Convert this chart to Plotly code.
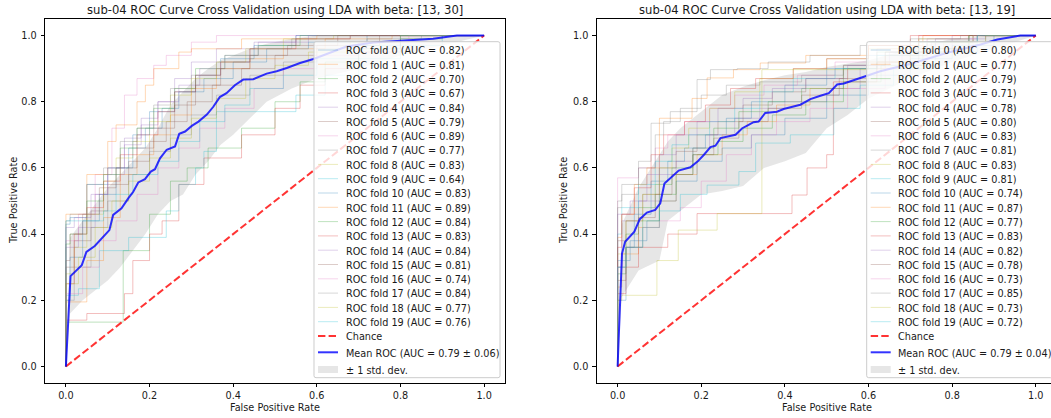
import plotly.graph_objects as go

W, H = 1051, 418
FONT = "DejaVu Sans"
TXT = "#1a1a1a"
FS = 9.7
FS_TITLE = 11.6
TAB10 = ["#1f77b4", "#ff7f0e", "#2ca02c", "#d62728", "#9467bd",
         "#8c564b", "#e377c2", "#7f7f7f", "#bcbd22", "#17becf"]

titles = ["sub-04 ROC Curve Cross Validation using LDA with beta: [13, 30]",
          "sub-04 ROC Curve Cross Validation using LDA with beta: [13, 19]"]
x_label = "False Positive Rate"
y_label = "True Positive Rate"
tick_vals = [0.0, 0.2, 0.4, 0.6, 0.8, 1.0]
tick_text = ["0.0", "0.2", "0.4", "0.6", "0.8", "1.0"]

# ---------------- left panel (beta 13-30) ----------------
left_auc = [0.82, 0.81, 0.70, 0.67, 0.84, 0.79, 0.89, 0.77, 0.83, 0.64,
            0.83, 0.89, 0.84, 0.83, 0.84, 0.81, 0.74, 0.84, 0.77, 0.76]
left_mean_auc, left_std_auc = 0.79, 0.06

left_folds = [
    [(0.01, 0.43), (0.05, 0.45), (0.10, 0.55), (0.15, 0.60), (0.19, 0.66), (0.23, 0.72), (0.27, 0.78), (0.33, 0.83), (0.40, 0.87), (0.48, 0.92), (0.58, 0.96), (0.72, 0.98), (0.86, 1.0), (1.0, 1.0)],
    [(0.05, 0.195), (0.09, 0.32), (0.13, 0.45), (0.17, 0.58), (0.21, 0.64), (0.25, 0.70), (0.30, 0.76), (0.36, 0.84), (0.44, 0.90), (0.52, 0.93), (0.62, 0.96), (0.78, 0.99), (0.90, 1.0), (1.0, 1.0)],
    [(0.137, 0.134), (0.20, 0.35), (0.25, 0.46), (0.29, 0.56), (0.34, 0.60), (0.42, 0.66), (0.50, 0.72), (0.56, 0.80), (0.62, 0.86), (0.70, 0.92), (0.80, 0.96), (0.90, 0.99), (0.96, 1.0), (1.0, 1.0)],
    [(0.05, 0.14), (0.14, 0.16), (0.16, 0.22), (0.20, 0.32), (0.23, 0.40), (0.27, 0.44), (0.33, 0.55), (0.42, 0.63), (0.50, 0.70), (0.56, 0.78), (0.62, 0.85), (0.70, 0.90), (0.80, 0.95), (0.92, 1.0), (1.0, 1.0)],
    [(0.03, 0.36), (0.07, 0.42), (0.10, 0.52), (0.14, 0.58), (0.18, 0.69), (0.22, 0.75), (0.26, 0.80), (0.30, 0.87), (0.36, 0.92), (0.45, 0.96), (0.55, 0.98), (0.70, 1.0), (1.0, 1.0)],
    [(0.02, 0.30), (0.06, 0.38), (0.10, 0.47), (0.15, 0.55), (0.20, 0.62), (0.24, 0.68), (0.29, 0.74), (0.35, 0.80), (0.42, 0.85), (0.50, 0.90), (0.60, 0.94), (0.75, 0.97), (0.88, 1.0), (1.0, 1.0)],
    [(0.03, 0.38), (0.07, 0.46), (0.11, 0.58), (0.14, 0.72), (0.17, 0.82), (0.21, 0.87), (0.24, 0.91), (0.30, 0.94), (0.36, 0.98), (0.44, 1.0), (1.0, 1.0)],
    [(0.02, 0.20), (0.06, 0.30), (0.10, 0.42), (0.15, 0.50), (0.20, 0.58), (0.25, 0.65), (0.30, 0.70), (0.36, 0.76), (0.44, 0.82), (0.52, 0.88), (0.60, 0.92), (0.72, 0.96), (0.85, 0.99), (0.95, 1.0), (1.0, 1.0)],
    [(0.02, 0.28), (0.05, 0.36), (0.09, 0.46), (0.12, 0.56), (0.16, 0.63), (0.20, 0.68), (0.25, 0.74), (0.30, 0.82), (0.36, 0.87), (0.43, 0.92), (0.52, 0.96), (0.64, 0.99), (0.80, 1.0), (1.0, 1.0)],
    [(0.03, 0.215), (0.08, 0.235), (0.15, 0.35), (0.24, 0.39), (0.27, 0.47), (0.31, 0.55), (0.33, 0.60), (0.36, 0.65), (0.42, 0.77), (0.55, 0.77), (0.62, 0.82), (0.70, 0.88), (0.80, 0.93), (0.90, 0.97), (1.0, 1.0)],
    [(0.01, 0.20), (0.04, 0.33), (0.08, 0.44), (0.12, 0.52), (0.16, 0.60), (0.20, 0.70), (0.26, 0.77), (0.31, 0.83), (0.37, 0.88), (0.45, 0.93), (0.55, 0.97), (0.70, 1.0), (1.0, 1.0)],
    [(0.05, 0.46), (0.10, 0.58), (0.12, 0.68), (0.17, 0.73), (0.19, 0.80), (0.21, 0.85), (0.27, 0.90), (0.30, 0.95), (0.42, 0.96), (0.60, 0.99), (0.75, 1.0), (1.0, 1.0)],
    [(0.01, 0.37), (0.05, 0.40), (0.09, 0.50), (0.13, 0.58), (0.17, 0.66), (0.21, 0.72), (0.26, 0.78), (0.31, 0.84), (0.38, 0.90), (0.46, 0.94), (0.56, 0.97), (0.70, 1.0), (1.0, 1.0)],
    [(0.02, 0.25), (0.05, 0.40), (0.09, 0.48), (0.13, 0.56), (0.17, 0.64), (0.22, 0.70), (0.26, 0.77), (0.31, 0.83), (0.37, 0.88), (0.44, 0.92), (0.55, 0.96), (0.68, 0.99), (0.82, 1.0), (1.0, 1.0)],
    [(0.02, 0.42), (0.06, 0.45), (0.10, 0.52), (0.14, 0.60), (0.18, 0.67), (0.22, 0.73), (0.27, 0.80), (0.32, 0.85), (0.38, 0.90), (0.46, 0.94), (0.58, 0.98), (0.72, 1.0), (1.0, 1.0)],
    [(0.01, 0.32), (0.04, 0.40), (0.08, 0.46), (0.12, 0.54), (0.17, 0.60), (0.21, 0.66), (0.26, 0.72), (0.31, 0.79), (0.37, 0.85), (0.44, 0.90), (0.53, 0.94), (0.65, 0.97), (0.80, 1.0), (1.0, 1.0)],
    [(0.04, 0.22), (0.08, 0.30), (0.12, 0.38), (0.17, 0.44), (0.22, 0.52), (0.27, 0.60), (0.32, 0.66), (0.38, 0.72), (0.45, 0.78), (0.52, 0.84), (0.60, 0.90), (0.70, 0.94), (0.82, 0.98), (0.92, 1.0), (1.0, 1.0)],
    [(0.01, 0.44), (0.05, 0.46), (0.09, 0.55), (0.13, 0.60), (0.17, 0.68), (0.21, 0.72), (0.25, 0.79), (0.30, 0.84), (0.36, 0.88), (0.44, 0.92), (0.54, 0.96), (0.68, 0.99), (0.80, 1.0), (1.0, 1.0)],
    [(0.03, 0.25), (0.07, 0.33), (0.11, 0.42), (0.15, 0.50), (0.20, 0.56), (0.25, 0.63), (0.30, 0.69), (0.36, 0.75), (0.43, 0.81), (0.50, 0.87), (0.58, 0.91), (0.68, 0.95), (0.80, 0.98), (0.92, 1.0), (1.0, 1.0)],
    [(0.09, 0.44), (0.12, 0.47), (0.16, 0.52), (0.22, 0.58), (0.27, 0.62), (0.32, 0.68), (0.38, 0.74), (0.44, 0.79), (0.52, 0.84), (0.60, 0.88), (0.70, 0.93), (0.80, 0.97), (0.92, 1.0), (1.0, 1.0)],
]

left_mean_fpr = [0.0, 0.011, 0.038, 0.049, 0.069, 0.089, 0.104, 0.113, 0.133, 0.149, 0.161, 0.173, 0.189, 0.203, 0.213,
                 0.225, 0.241, 0.261, 0.271, 0.285, 0.301, 0.317, 0.337, 0.352, 0.368, 0.384, 0.404, 0.424, 0.448,
                 0.480, 0.504, 0.528, 0.560, 0.592, 0.639, 0.671, 0.735, 0.800, 0.878, 0.935, 1.0]
left_mean_tpr = [0.0, 0.273, 0.306, 0.346, 0.364, 0.392, 0.412, 0.458, 0.478, 0.508, 0.528, 0.556, 0.566, 0.589, 0.596,
                 0.629, 0.655, 0.665, 0.703, 0.710, 0.727, 0.740, 0.761, 0.784, 0.814, 0.826, 0.850, 0.867, 0.868,
                 0.885, 0.892, 0.902, 0.917, 0.929, 0.952, 0.967, 0.979, 0.984, 0.990, 1.0, 1.0]

left_band_fpr = [0.0, 0.01, 0.04, 0.07, 0.10, 0.13, 0.16, 0.19, 0.22, 0.25, 0.28, 0.31, 0.34, 0.37, 0.40,
                 0.44, 0.48, 0.54, 0.60, 0.70, 0.80, 0.90, 1.0]
left_band_upper = [0.0, 0.39, 0.44, 0.49, 0.54, 0.58, 0.62, 0.66, 0.72, 0.79, 0.83, 0.87, 0.90, 0.925, 0.94,
                   0.96, 0.975, 0.99, 1.0, 1.0, 1.0, 1.0, 1.0]
left_band_lower = [0.0, 0.16, 0.20, 0.23, 0.26, 0.30, 0.35, 0.40, 0.46, 0.50, 0.52, 0.58, 0.62, 0.67, 0.70,
                   0.75, 0.80, 0.84, 0.87, 0.90, 0.94, 0.97, 1.0]

# ---------------- right panel (beta 13-19) ----------------
right_auc = [0.80, 0.77, 0.79, 0.71, 0.78, 0.80, 0.83, 0.81, 0.83, 0.81,
             0.74, 0.87, 0.77, 0.83, 0.82, 0.78, 0.73, 0.85, 0.73, 0.72]
right_mean_auc, right_std_auc = 0.79, 0.04

right_folds = [
    [(0.02, 0.20), (0.04, 0.36), (0.08, 0.46), (0.12, 0.56), (0.16, 0.62), (0.21, 0.66), (0.26, 0.70), (0.32, 0.75), (0.40, 0.80), (0.50, 0.85), (0.60, 0.90), (0.72, 0.94), (0.84, 0.98), (0.94, 1.0), (1.0, 1.0)],
    [(0.01, 0.24), (0.05, 0.34), (0.10, 0.42), (0.14, 0.50), (0.19, 0.58), (0.25, 0.64), (0.31, 0.70), (0.38, 0.74), (0.46, 0.79), (0.55, 0.84), (0.64, 0.90), (0.74, 0.94), (0.85, 0.98), (0.95, 1.0), (1.0, 1.0)],
    [(0.02, 0.30), (0.05, 0.40), (0.09, 0.48), (0.13, 0.55), (0.18, 0.60), (0.23, 0.66), (0.29, 0.72), (0.36, 0.77), (0.44, 0.80), (0.54, 0.84), (0.62, 0.90), (0.72, 0.95), (0.85, 0.98), (0.95, 1.0), (1.0, 1.0)],
    [(0.02, 0.22), (0.05, 0.30), (0.12, 0.36), (0.19, 0.40), (0.417, 0.462), (0.453, 0.518), (0.50, 0.60), (0.516, 0.64), (0.62, 0.86), (0.70, 0.92), (0.76, 1.0), (1.0, 1.0)],
    [(0.01, 0.30), (0.05, 0.44), (0.10, 0.50), (0.14, 0.58), (0.18, 0.62), (0.22, 0.66), (0.28, 0.70), (0.34, 0.75), (0.40, 0.78), (0.50, 0.80), (0.58, 0.84), (0.68, 0.90), (0.80, 0.95), (0.92, 1.0), (1.0, 1.0)],
    [(0.02, 0.38), (0.06, 0.44), (0.10, 0.52), (0.14, 0.60), (0.19, 0.65), (0.24, 0.70), (0.30, 0.74), (0.37, 0.79), (0.45, 0.83), (0.54, 0.87), (0.64, 0.91), (0.75, 0.95), (0.86, 0.98), (0.95, 1.0), (1.0, 1.0)],
    [(0.05, 0.57), (0.09, 0.60), (0.12, 0.66), (0.16, 0.70), (0.22, 0.74), (0.28, 0.78), (0.35, 0.82), (0.43, 0.85), (0.52, 0.88), (0.62, 0.92), (0.74, 0.96), (0.86, 0.99), (0.95, 1.0), (1.0, 1.0)],
    [(0.01, 0.48), (0.05, 0.52), (0.09, 0.60), (0.11, 0.70), (0.15, 0.74), (0.20, 0.78), (0.26, 0.82), (0.34, 0.85), (0.44, 0.86), (0.54, 0.88), (0.64, 0.91), (0.76, 0.95), (0.88, 0.98), (0.96, 1.0), (1.0, 1.0)],
    [(0.02, 0.34), (0.06, 0.44), (0.10, 0.52), (0.13, 0.60), (0.17, 0.66), (0.22, 0.72), (0.28, 0.78), (0.34, 0.83), (0.42, 0.87), (0.50, 0.90), (0.60, 0.93), (0.72, 0.96), (0.84, 0.99), (0.92, 1.0), (1.0, 1.0)],
    [(0.01, 0.40), (0.05, 0.48), (0.09, 0.55), (0.13, 0.62), (0.17, 0.67), (0.22, 0.70), (0.28, 0.74), (0.34, 0.78), (0.42, 0.83), (0.52, 0.87), (0.62, 0.90), (0.74, 0.94), (0.86, 0.98), (0.95, 1.0), (1.0, 1.0)],
    [(0.03, 0.32), (0.07, 0.38), (0.10, 0.44), (0.14, 0.50), (0.19, 0.56), (0.25, 0.62), (0.32, 0.66), (0.40, 0.70), (0.50, 0.75), (0.60, 0.82), (0.70, 0.88), (0.80, 0.93), (0.90, 0.97), (0.97, 1.0), (1.0, 1.0)],
    [(0.01, 0.39), (0.04, 0.46), (0.07, 0.55), (0.10, 0.60), (0.178, 0.75), (0.214, 0.81), (0.277, 0.872), (0.341, 0.897), (0.45, 0.917), (0.60, 0.94), (0.73, 0.97), (0.85, 1.0), (1.0, 1.0)],
    [(0.02, 0.28), (0.06, 0.36), (0.10, 0.44), (0.14, 0.52), (0.18, 0.58), (0.24, 0.64), (0.30, 0.68), (0.37, 0.72), (0.45, 0.76), (0.54, 0.80), (0.63, 0.86), (0.73, 0.91), (0.84, 0.96), (0.94, 1.0), (1.0, 1.0)],
    [(0.01, 0.36), (0.04, 0.46), (0.08, 0.54), (0.11, 0.64), (0.16, 0.70), (0.21, 0.74), (0.27, 0.79), (0.33, 0.84), (0.42, 0.87), (0.50, 0.90), (0.60, 0.93), (0.72, 0.97), (0.84, 1.0), (1.0, 1.0)],
    [(0.03, 0.46), (0.07, 0.50), (0.10, 0.58), (0.14, 0.64), (0.19, 0.70), (0.24, 0.74), (0.30, 0.78), (0.37, 0.81), (0.45, 0.84), (0.55, 0.87), (0.65, 0.91), (0.76, 0.95), (0.88, 0.99), (0.96, 1.0), (1.0, 1.0)],
    [(0.02, 0.26), (0.05, 0.36), (0.09, 0.45), (0.13, 0.52), (0.18, 0.58), (0.23, 0.64), (0.29, 0.69), (0.36, 0.74), (0.44, 0.78), (0.53, 0.82), (0.62, 0.87), (0.72, 0.92), (0.84, 0.96), (0.94, 1.0), (1.0, 1.0)],
    [(0.02, 0.30), (0.06, 0.36), (0.10, 0.42), (0.15, 0.44), (0.20, 0.48), (0.26, 0.56), (0.32, 0.64), (0.38, 0.70), (0.46, 0.74), (0.55, 0.78), (0.64, 0.84), (0.74, 0.90), (0.85, 0.95), (0.95, 1.0), (1.0, 1.0)],
    [(0.01, 0.50), (0.05, 0.55), (0.08, 0.62), (0.126, 0.735), (0.19, 0.77), (0.222, 0.867), (0.286, 0.897), (0.36, 0.90), (0.46, 0.92), (0.58, 0.94), (0.70, 0.97), (0.82, 0.99), (0.92, 1.0), (1.0, 1.0)],
    [(0.01, 0.20), (0.094, 0.215), (0.145, 0.32), (0.238, 0.412), (0.345, 0.462), (0.60, 0.897), (0.70, 0.92), (0.78, 0.95), (0.88, 0.98), (0.95, 1.0), (1.0, 1.0)],
    [(0.02, 0.30), (0.06, 0.36), (0.10, 0.42), (0.15, 0.47), (0.214, 0.52), (0.29, 0.548), (0.33, 0.589), (0.413, 0.675), (0.517, 0.70), (0.58, 0.78), (0.66, 0.85), (0.76, 0.90), (0.86, 0.95), (0.95, 1.0), (1.0, 1.0)],
]

right_mean_fpr = [0.0, 0.0105, 0.018, 0.040, 0.053, 0.070, 0.090, 0.102, 0.112, 0.130, 0.146, 0.174, 0.191, 0.206,
                  0.222, 0.234, 0.246, 0.282, 0.298, 0.310, 0.325, 0.337, 0.353, 0.381, 0.397, 0.437, 0.461,
                  0.485, 0.505, 0.525, 0.541, 0.557, 0.589, 0.628, 0.708, 0.788, 0.868, 0.908, 0.963, 1.0]
right_mean_tpr = [0.0, 0.341, 0.377, 0.407, 0.445, 0.465, 0.473, 0.493, 0.553, 0.574, 0.592, 0.602, 0.619, 0.639,
                  0.663, 0.667, 0.690, 0.700, 0.720, 0.728, 0.738, 0.740, 0.766, 0.770, 0.778, 0.791, 0.808,
                  0.818, 0.826, 0.852, 0.855, 0.862, 0.875, 0.892, 0.917, 0.948, 0.973, 0.988, 1.0, 1.0]

right_band_fpr = [0.0, 0.01, 0.05, 0.10, 0.12, 0.15, 0.20, 0.25, 0.30, 0.35, 0.40, 0.45, 0.50, 0.55, 0.60,
                  0.70, 0.80, 0.90, 1.0]
right_band_upper = [0.0, 0.43, 0.54, 0.64, 0.68, 0.72, 0.77, 0.82, 0.845, 0.865, 0.88, 0.89, 0.905, 0.915, 0.925,
                    0.96, 0.99, 1.0, 1.0]
right_band_lower = [0.0, 0.21, 0.29, 0.32, 0.44, 0.47, 0.52, 0.53, 0.545, 0.60, 0.62, 0.645, 0.72, 0.76, 0.81,
                    0.87, 0.92, 0.96, 1.0]

chance_x = [0.0, 1.0]
chance_y = [0.0, 1.0]


def rgba(hexc, a):
    hexc = hexc.lstrip("#")
    r, g, b = int(hexc[0:2], 16), int(hexc[2:4], 16), int(hexc[4:6], 16)
    return f"rgba({r},{g},{b},{a})"


fig = go.Figure()


def add_panel(folds, mean_fpr, mean_tpr, band_fpr, band_lo, band_hi, xa, ya):
    fig.add_trace(go.Scatter(x=band_fpr, y=band_lo, mode="lines", line=dict(width=0),
                             xaxis=xa, yaxis=ya, hoverinfo="skip", showlegend=False))
    fig.add_trace(go.Scatter(x=band_fpr, y=band_hi, mode="lines", line=dict(width=0),
                             fill="tonexty", fillcolor="rgba(128,128,128,0.2)",
                             xaxis=xa, yaxis=ya, hoverinfo="skip", showlegend=False))
    for i, pts in enumerate(folds):
        xs = [0.0] + [p[0] for p in pts]
        ys = [0.0] + [p[1] for p in pts]
        fig.add_trace(go.Scatter(x=xs, y=ys, mode="lines", line=dict(color=rgba(TAB10[i % 10], 0.3), width=1, shape="vh"),
                                 xaxis=xa, yaxis=ya, showlegend=False))
    fig.add_trace(go.Scatter(x=chance_x, y=chance_y, mode="lines",
                             line=dict(color="rgba(255,0,0,0.8)", width=2, dash="7.4px,3.2px"),
                             xaxis=xa, yaxis=ya, showlegend=False))
    fig.add_trace(go.Scatter(x=mean_fpr, y=mean_tpr, mode="lines",
                             line=dict(color="rgba(0,0,255,0.8)", width=2),
                             xaxis=xa, yaxis=ya, showlegend=False))


add_panel(left_folds, left_mean_fpr, left_mean_tpr, left_band_fpr, left_band_lower, left_band_upper, "x", "y")
add_panel(right_folds, right_mean_fpr, right_mean_tpr, right_band_fpr, right_band_lower, right_band_upper, "x2", "y2")

PX_PER_UNIT = 460 / 1.1
L_X0, L_X1 = 45, 505
R_X0 = 596.7
Y_TOP, Y_BOT = 19, 383

axis_common = dict(showline=True, linecolor="black", linewidth=0.8, ticks="outside", ticklen=3.5,
                   tickwidth=0.8, tickcolor="black", showgrid=False, zeroline=False,
                   tickvals=tick_vals, ticktext=tick_text,
                   tickfont=dict(family=FONT, size=FS, color=TXT))

fig.update_layout(
    width=W, height=H, margin=dict(l=0, r=0, t=0, b=0), autosize=False,
    paper_bgcolor="white", plot_bgcolor="white", showlegend=False,
    xaxis=dict(domain=[L_X0 / W, L_X1 / W], range=[-0.05, 1.05], anchor="y", mirror=True,
               ticklabelstandoff=0, **axis_common),
    yaxis=dict(domain=[1 - Y_BOT / H, 1 - Y_TOP / H], range=[-0.05, 1.05], anchor="x", mirror=True,
               ticklabelstandoff=2, **axis_common),
    xaxis2=dict(domain=[R_X0 / W, 1.0], range=[-0.05, -0.05 + (W - R_X0) / PX_PER_UNIT], anchor="y2",
                mirror=True, ticklabelstandoff=0, **axis_common),
    yaxis2=dict(domain=[1 - Y_BOT / H, 1 - Y_TOP / H], range=[-0.05, 1.05], anchor="x2", mirror=False,
                ticklabelstandoff=2, **axis_common),
)

annotations = []
shapes = []


def px(x):
    return x / W


def py(y):
    return 1 - y / H


# titles and axis labels
for title, cx in [(titles[0], (L_X0 + L_X1) / 2), (titles[1], (R_X0 + R_X0 + 1.1 * PX_PER_UNIT) / 2)]:
    annotations.append(dict(text=title, x=px(cx), y=py(10), xref="paper", yref="paper", xanchor="center",
                            yanchor="middle", showarrow=False, font=dict(family=FONT, size=FS_TITLE, color=TXT)))
    annotations.append(dict(text=x_label, x=px(cx), y=py(407), xref="paper", yref="paper", xanchor="center",
                            yanchor="middle", showarrow=False, font=dict(family=FONT, size=FS, color=TXT)))
for lx in [13, 563]:
    annotations.append(dict(text=y_label, x=px(lx), y=py((Y_TOP + Y_BOT) / 2), xref="paper", yref="paper",
                            xanchor="center", yanchor="middle", textangle=-90, showarrow=False,
                            font=dict(family=FONT, size=FS, color=TXT)))


def rounded_rect(x0, y0, x1, y1, r):
    pts = [("M", x0 + r, y0), ("L", x1 - r, y0), ("Q", x1, y0, x1, y0 + r), ("L", x1, y1 - r),
           ("Q", x1, y1, x1 - r, y1), ("L", x0 + r, y1), ("Q", x0, y1, x0, y1 - r), ("L", x0, y0 + r),
           ("Q", x0, y0, x0 + r, y0)]
    s = ""
    for p in pts:
        if p[0] == "Q":
            s += f"Q{px(p[1]):.5f},{py(p[2]):.5f} {px(p[3]):.5f},{py(p[4]):.5f} "
        else:
            s += f"{p[0]}{px(p[1]):.5f},{py(p[2]):.5f} "
    return s + "Z"


def add_legend(x0, aucs, mean_auc, std_auc):
    shapes.append(dict(type="path", path=rounded_rect(x0, 41.7, x0 + 186, 377.7, 2), xref="paper", yref="paper",
                       fillcolor="rgba(255,255,255,0.8)", line=dict(color="#cccccc", width=1), layer="above"))
    rows = []
    for i, a in enumerate(aucs):
        rows.append((50 + 14.3 * i, f"ROC fold {i} (AUC = {a:.2f})", dict(color=rgba(TAB10[i % 10], 0.3), width=1)))
    rows.append((336, "Chance", dict(color="rgba(255,0,0,0.8)", width=2, dash="7.4px,3.2px")))
    rows.append((352.3, f"Mean ROC (AUC = {mean_auc:.2f} \u00b1 {std_auc:.2f})", dict(color="rgba(0,0,255,0.8)", width=2)))
    for yrow, label, line in rows:
        shapes.append(dict(type="line", x0=px(x0 + 4), x1=px(x0 + 24), y0=py(yrow), y1=py(yrow), xref="paper",
                           yref="paper", line=line, layer="above"))
        annotations.append(dict(text=label, x=px(x0 + 29.5), y=py(yrow + 0.8), xref="paper", yref="paper",
                                xanchor="left", yanchor="middle", showarrow=False,
                                font=dict(family=FONT, size=FS, color=TXT)))
    shapes.append(dict(type="rect", x0=px(x0 + 4), x1=px(x0 + 24), y0=py(373), y1=py(366), xref="paper",
                       yref="paper", fillcolor="rgba(128,128,128,0.2)", line=dict(width=0), layer="above"))
    annotations.append(dict(text="\u00b1 1 std. dev.", x=px(x0 + 29.5), y=py(370.3), xref="paper", yref="paper",
                            xanchor="left", yanchor="middle", showarrow=False,
                            font=dict(family=FONT, size=FS, color=TXT)))


add_legend(314, left_auc, left_mean_auc, left_std_auc)
add_legend(866.7, right_auc, right_mean_auc, right_std_auc)

fig.update_layout(annotations=annotations, shapes=shapes)
fig.write_html("out.html", config={"displayModeBar": False},
               post_script="document.body.style.margin='0px';")
